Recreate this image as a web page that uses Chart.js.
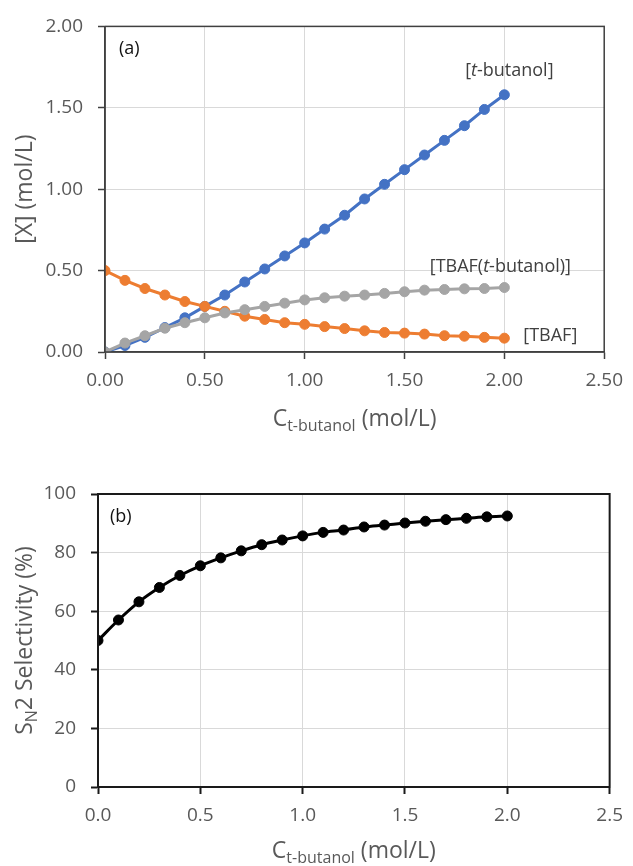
<!DOCTYPE html>
<html>
<head>
<meta charset="utf-8">
<script src="https://cdn.jsdelivr.net/npm/chart.js@4.4.1/dist/chart.umd.min.js"></script>
<style>
  body { margin: 0; background: #fff; }
  #wrap { position: relative; width: 633px; height: 866px; }
  canvas { position: absolute; left: 0; }
  #chartA { top: 0; }
  #chartB { top: 440px; }
</style>
</head>
<body>
<div id="wrap">
  <canvas id="chartA" width="633" height="440"></canvas>
  <canvas id="chartB" width="633" height="426"></canvas>
</div>
<script>
// C(t-butanol), mol/L
const concentrations = [0.0, 0.1, 0.2, 0.3, 0.4, 0.5, 0.6, 0.7, 0.8, 0.9, 1.0,
  1.1, 1.2, 1.3, 1.4, 1.5, 1.6, 1.7, 1.8, 1.9, 2.0];

// (a) concentrations of each species
const tButanol = [0.00, 0.04, 0.09, 0.15, 0.21, 0.28, 0.35, 0.43, 0.51, 0.59, 0.67,
  0.755, 0.84, 0.94, 1.03, 1.12, 1.21, 1.30, 1.39, 1.49, 1.58];
const tbaf = [0.50, 0.44, 0.39, 0.35, 0.31, 0.28, 0.25, 0.22, 0.20, 0.18, 0.17,
  0.156, 0.144, 0.13, 0.12, 0.116, 0.11, 0.10, 0.097, 0.09, 0.085];
const tbafComplex = [0.00, 0.055, 0.10, 0.146, 0.18, 0.21, 0.24, 0.26, 0.28, 0.30, 0.32,
  0.333, 0.343, 0.35, 0.36, 0.37, 0.38, 0.384, 0.388, 0.39, 0.396];

// (b) SN2 selectivity, %
const selectivity = [50.0, 57.0, 63.2, 68.1, 72.2, 75.5, 78.2, 80.6, 82.7, 84.3, 85.7,
  86.9, 87.7, 88.75, 89.4, 90.1, 90.7, 91.25, 91.7, 92.2, 92.5];

// tick values
const xTicksA = [0, 0.5, 1, 1.5, 2, 2.5];
const yTicksA = [0, 0.5, 1, 1.5, 2];
const xTicksB = [0, 0.5, 1, 1.5, 2, 2.5];
const yTicksB = [0, 20, 40, 60, 80, 100];

const FONT = '"Open Sans", "Noto Sans", sans-serif';
const GRID = '#d9d9d9';
const LABEL = '#595959';

function toPoints(xs, ys) {
  return xs.map((x, i) => ({ x: x, y: ys[i] }));
}

// draw a row of text pieces (different fonts / subscripts) one after another
function drawRuns(ctx, runs, x, y) {
  let total = 0;
  runs.forEach(r => {
    ctx.font = r.font;
    r.w = ctx.measureText(r.text).width;
    total += r.w;
  });
  let cx = x - total / 2;
  runs.forEach(r => {
    ctx.font = r.font;
    ctx.fillText(r.text, cx, y + (r.dy || 0));
    cx += r.w;
  });
}

// frame round the plot, axis titles and in-plot labels
function decorPlugin(cfg) {
  return {
    id: 'decor',
    afterDraw(chart) {
      const ctx = chart.ctx;
      const a = chart.chartArea;
      const xs = chart.scales.x, ys = chart.scales.y;
      ctx.save();
      ctx.strokeStyle = cfg.frameColor;
      ctx.lineWidth = cfg.frameWidth;
      ctx.strokeRect(a.left, a.top, a.right - a.left, a.bottom - a.top);

      ctx.textBaseline = 'alphabetic';
      // x title
      ctx.fillStyle = LABEL;
      drawRuns(ctx, cfg.xTitle, (a.left + a.right) / 2, cfg.xTitleY);
      // y title (rotated)
      ctx.save();
      ctx.translate(cfg.yTitleX, (a.top + a.bottom) / 2);
      ctx.rotate(-Math.PI / 2);
      drawRuns(ctx, cfg.yTitle, 0, 0);
      ctx.restore();

      // panel letter
      ctx.fillStyle = '#111';
      ctx.font = '18px ' + FONT;
      ctx.textAlign = 'left';
      ctx.fillText(cfg.panel, a.left + cfg.panelDx, a.top + cfg.panelDy);

      // series labels placed in data units
      ctx.fillStyle = '#404040';
      (cfg.labels || []).forEach(l => {
        drawRuns(ctx, l.runs, xs.getPixelForValue(l.x), ys.getPixelForValue(l.y) + 6);
      });
      ctx.restore();
    }
  };
}

function lineSet(label, data, color, order) {
  return {
    label: label,
    data: data,
    borderColor: color,
    backgroundColor: color,
    borderWidth: 3,
    pointRadius: 5,
    pointBorderWidth: 1,
    pointBorderColor: color,
    pointBackgroundColor: color,
    tension: 0,
    order: order
  };
}

function axisOpts(ticks, digits, size, border) {
  return {
    type: 'linear',
    min: ticks[0],
    max: ticks[ticks.length - 1],
    afterBuildTicks: s => { s.ticks = ticks.map(v => ({ value: v })); },
    ticks: {
      color: LABEL,
      font: { family: FONT, size: 19 },
      callback: v => Number(v).toFixed(digits),
      maxRotation: 0,
      autoSkip: false
    },
    grid: { color: GRID, lineWidth: 1, tickLength: 7, tickColor: border.color, tickWidth: border.width },
    border: { color: border.color, width: border.width },
    afterFit: s => { if (size.w) s.width = size.w; if (size.h) s.height = size.h; }
  };
}

const subFont = '16px ' + FONT;
const mainFont = '23px ' + FONT;
const lblFont = '18px ' + FONT;
const lblItalic = 'italic 18px ' + FONT;
const xTitleRuns = [
  { text: 'C', font: mainFont },
  { text: 't-butanol', font: subFont, dy: 5 },
  { text: ' (mol/L)', font: mainFont }
];

// (a) species concentrations
const borderA = { color: '#404040', width: 1.5 };
const scalesA = {
  x: axisOpts(xTicksA, 2, { h: 88 }, borderA),
  y: axisOpts(yTicksA, 2, { w: 105 }, borderA)
};
scalesA.x.ticks.padding = 10;
scalesA.y.ticks.padding = 15;

new Chart(document.getElementById('chartA'), {
  type: 'line',
  data: {
    datasets: [
      lineSet('[t-butanol]', toPoints(concentrations, tButanol), '#4472C4', 2),
      lineSet('[TBAF]', toPoints(concentrations, tbaf), '#ED7D31', 1),
      lineSet('[TBAF(t-butanol)]', toPoints(concentrations, tbafComplex), '#A5A5A5', 0)
    ]
  },
  options: {
    responsive: false,
    animation: false,
    layout: { padding: { top: 23, right: 21, bottom: 0, left: 0 } },
    plugins: { legend: { display: false }, tooltip: { enabled: false } },
    scales: scalesA
  },
  plugins: [decorPlugin({
    frameColor: borderA.color,
    frameWidth: borderA.width,
    xTitle: xTitleRuns,
    xTitleY: 426,
    yTitle: [{ text: '[X] (mol/L)', font: mainFont }],
    yTitleX: 32,
    panel: '(a)',
    panelDx: 14,
    panelDy: 28,
    labels: [
      { x: 2.025, y: 1.73, runs: [{ text: '[', font: lblFont }, { text: 't', font: lblItalic }, { text: '-butanol]', font: lblFont }] },
      { x: 1.98, y: 0.53, runs: [{ text: '[TBAF(', font: lblFont }, { text: 't', font: lblItalic }, { text: '-butanol)]', font: lblFont }] },
      { x: 2.23, y: 0.104, runs: [{ text: '[TBAF]', font: lblFont }] }
    ]
  })]
});

// (b) SN2 selectivity
const borderB = { color: '#1a1a1a', width: 2 };
const scalesB = {
  x: axisOpts(xTicksB, 1, { h: 79 }, borderB),
  y: axisOpts(yTicksB, 0, { w: 98 }, borderB)
};
scalesB.x.ticks.padding = 10;
scalesB.y.ticks.padding = 15;

const selSet = lineSet('SN2 Selectivity', toPoints(concentrations, selectivity), '#000000', 0);
selSet.tension = 0.4;
selSet.cubicInterpolationMode = 'monotone';

new Chart(document.getElementById('chartB'), {
  type: 'line',
  data: { datasets: [selSet] },
  options: {
    responsive: false,
    animation: false,
    layout: { padding: { top: 54, right: 14, bottom: 0, left: 0 } },
    plugins: { legend: { display: false }, tooltip: { enabled: false } },
    scales: scalesB
  },
  plugins: [decorPlugin({
    frameColor: borderB.color,
    frameWidth: borderB.width,
    xTitle: xTitleRuns,
    xTitleY: 418,
    yTitle: [
      { text: 'S', font: mainFont },
      { text: 'N', font: subFont, dy: 5 },
      { text: '2 Selectivity (%)', font: mainFont }
    ],
    yTitleX: 32,
    panel: '(b)',
    panelDx: 12,
    panelDy: 28,
    labels: []
  })]
});
</script>
</body>
</html>
